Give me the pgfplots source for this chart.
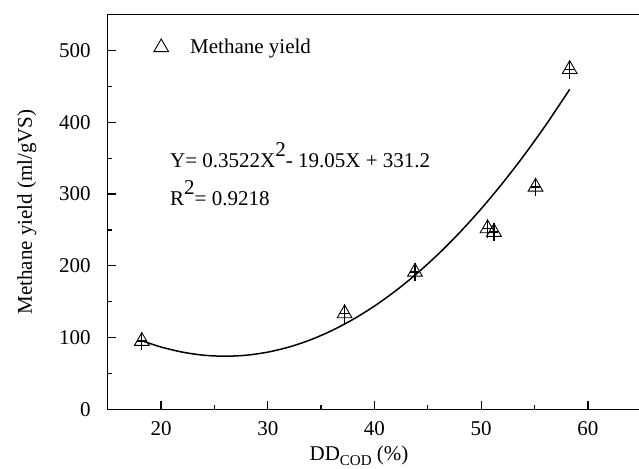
\documentclass[border=0pt]{standalone}
\usepackage{fontspec}
\setmainfont{Liberation Serif}
\usepackage{pgfplots}
\pgfplotsset{compat=1.18}

\begin{document}
\begin{tikzpicture}[font=\fontsize{21}{25}\selectfont]
\begin{axis}[
  scale only axis,
  width=533.5pt, height=394.6pt,
  at={(0pt,0pt)}, anchor=south west,
  xmin=15, xmax=65, ymin=0, ymax=550,
  xtick={20,30,40,50,60},
  ytick={0,100,200,300,400,500},
  minor x tick num=1, minor y tick num=1,
  tick pos=left, tick align=inside,
  major tick length=8pt, minor tick length=4pt,
  every tick/.style={black, line width=1.3pt},
  axis line style={black, line width=1.6pt},
  /pgf/number format/assume math mode=true,
  xticklabel style={yshift=-8.5pt},
  yticklabel style={xshift=-13.5pt},
  xlabel={DD\raisebox{-5pt}{\fontsize{15}{15}\selectfont COD} (\%)},
  xlabel style={at={(axis description cs:0.471,0)}, anchor=base, yshift=-50.7pt},
  ylabel={Methane yield (ml/gVS)},
  ylabel style={at={(axis description cs:-0.142,0.5)}, anchor=base},
  legend style={draw=none, fill=none, at={(axis description cs:0.0793,0.917)}, anchor=west},
  legend cell align=left,
  legend image code/.code={\path[draw=none, fill=none] (0pt,0pt) -- (35pt,0pt);
    \draw[#1, only marks] plot coordinates {(8pt,0pt)};},
]
% fitted curve as drawn
\addplot[black, line width=1.5pt, smooth, forget plot] coordinates {
 (18.3,95.1) (20,86.8) (22,79.7) (24,75.4) (26,74.0) (28,75.4) (30,79.7)
 (32,86.8) (34,96.8) (36,109.7) (38,125.4) (40,143.9) (42,165.3) (44,189.5)
 (46,216.6) (48,246.6) (50,279.4) (52,315.1) (54,353.6) (56,394.9) (58,439.2) (58.3,446.0)};
% error bars
\addplot[black, only marks, mark=-, mark size=4.5pt, line width=1.3pt, forget plot,
  error bars/.cd, y dir=both, y fixed=13, error mark=none,
  error bar style={line width=1.3pt}] coordinates {
 (18.2,95) (37.2,133.5) (43.8,191.5) (50.6,252) (51.2,247) (55.1,310) (58.3,474)};
% data points
\addplot[black, only marks, mark=triangle, mark size=8.5pt, mark options={line width=0.9pt}] coordinates {
 (18.2,95) (37.2,133.5) (43.8,191.5) (50.6,252) (51.2,247) (55.1,310) (58.3,474)};
\addlegendentry{Methane yield}
\node[anchor=base west] at (axis cs:20.53,337.4) {Y= 0.3522X\raisebox{11pt}{2}- 19.05X + 331.2};
\node[anchor=base west] at (axis cs:20.53,284) {R\raisebox{11pt}{2}= 0.9218};
\end{axis}
\pgfresetboundingbox
\path[use as bounding box] (-107.7pt,-58.7pt) rectangle (531.3pt,409.3pt);
\end{tikzpicture}
\end{document}
